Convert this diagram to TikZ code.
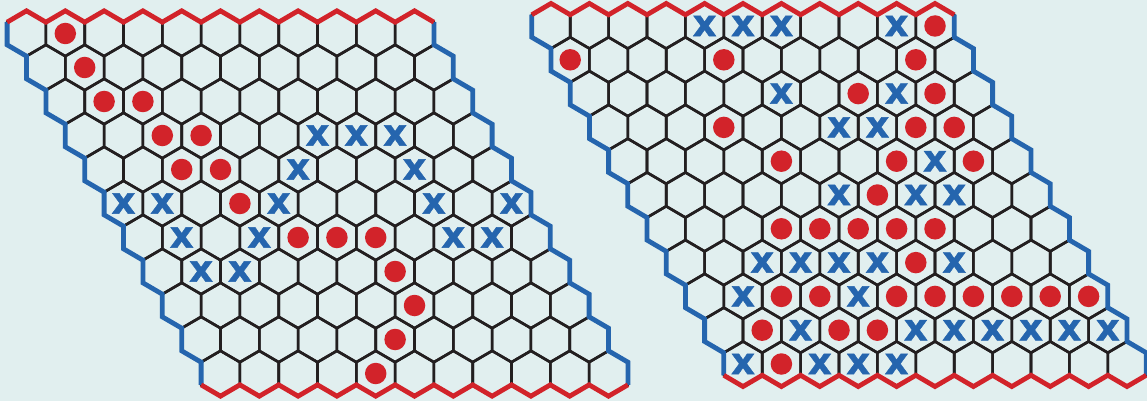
\documentclass[tikz,border=0pt]{standalone}
\usepackage{fontspec}
\usepackage{xcolor}
\usepackage{tikz}
\newfontfamily\crossfont{DejaVu Sans Bold}[FakeBold=1.2]
\definecolor{boardbg}{HTML}{E1EFEF}
\definecolor{gridline}{HTML}{231F20}
\definecolor{hexred}{HTML}{D2232A}
\definecolor{hexblue}{HTML}{2565AE}

\begin{document}
\begin{tikzpicture}[
    x=1pt, y=-1pt,
    cell/.style={draw=gridline, line width=2.6pt},
    redside/.style={draw=hexred, line width=4.8pt},
    blueside/.style={draw=hexblue, line width=4.8pt},
    dot/.style={circle, fill=hexred, inner sep=0pt, minimum size=21.5pt},
    cross/.style={text=hexblue, inner sep=0pt, font=\crossfont\fontsize{37}{37}\selectfont}
]
\fill[boardbg] (0,0) rectangle (1147,401);
\useasboundingbox (0,0) rectangle (1147,401);

% two 11x11 boards
\foreach \bd/\ox/\oy/\w/\dy in {L/26.5/33.5/38.8/34.0, R/551/26/38.4/33.8} {
  \pgfmathsetmacro\hh{\dy/1.5}
  \foreach \row in {0,...,10}
    \foreach \col in {0,...,10} {
      \pgfmathsetmacro\cx{\ox+\col*\w+\row*\w/2}
      \pgfmathsetmacro\cy{\oy+\row*\dy}
      \coordinate (\bd-\row-\col) at (\cx,\cy);
      \draw[cell] (\cx,\cy-\hh) -- ++(\w/2,\hh/2) -- ++(0,\hh) -- ++(-\w/2,\hh/2)
        -- ++(-\w/2,-\hh/2) -- ++(0,-\hh) -- cycle;
    }
  \draw[blueside] (\ox-\w/2,\oy-\hh/2) \foreach \row in {0,...,9} { -- ++(0,\hh) -- ++(\w/2,\hh/2) } -- ++(0,\hh);
  \draw[blueside] (\ox+10.5*\w,\oy-\hh/2) -- ++(0,\hh) \foreach \row in {1,...,10} { -- ++(\w/2,\hh/2) -- ++(0,\hh) };
  \draw[redside] (\ox-\w/2,\oy-\hh/2) \foreach \col in {0,...,10} { -- ++(\w/2,-\hh/2) -- ++(\w/2,\hh/2) };
  \draw[redside] (\ox+4.5*\w,\oy+10*\dy+\hh/2) \foreach \col in {0,...,10} { -- ++(\w/2,\hh/2) -- ++(\w/2,-\hh/2) };
}

% left board
\foreach \row/\col in {0/1, 1/1, 2/1, 2/2, 3/2, 3/3, 4/2, 4/3, 5/3, 6/4, 6/5, 6/6, 7/6, 8/6, 9/5, 10/4}
  \node[dot] (L-red-\row-\col) at (L-\row-\col) {};
\foreach \row/\col in {3/6, 3/7, 3/8, 4/5, 4/8, 5/0, 5/1, 5/4, 5/8, 5/10, 6/1, 6/3, 6/8, 6/9, 7/1, 7/2}
  \node[cross] (L-x-\row-\col) at (L-\row-\col) {x};

% right board
\foreach \row/\col in {0/10, 1/0, 1/4, 1/9, 2/7, 2/9, 3/3, 3/8, 3/9, 4/4, 4/7, 4/9, 5/6,
    6/3, 6/4, 6/5, 6/6, 6/7, 7/6, 8/2, 8/3, 8/5, 8/6, 8/7, 8/8, 8/9, 8/10, 9/1, 9/3, 9/4, 10/1}
  \node[dot] (R-red-\row-\col) at (R-\row-\col) {};
\foreach \row/\col in {0/4, 0/5, 0/6, 0/9, 2/5, 2/8, 3/6, 3/7, 4/8, 5/5, 5/7, 5/8, 7/2, 7/3, 7/4, 7/5, 7/7,
    8/1, 8/4, 9/2, 9/5, 9/6, 9/7, 9/8, 9/9, 9/10, 10/0, 10/2, 10/3, 10/4}
  \node[cross] (R-x-\row-\col) at (R-\row-\col) {x};
\end{tikzpicture}
\end{document}
